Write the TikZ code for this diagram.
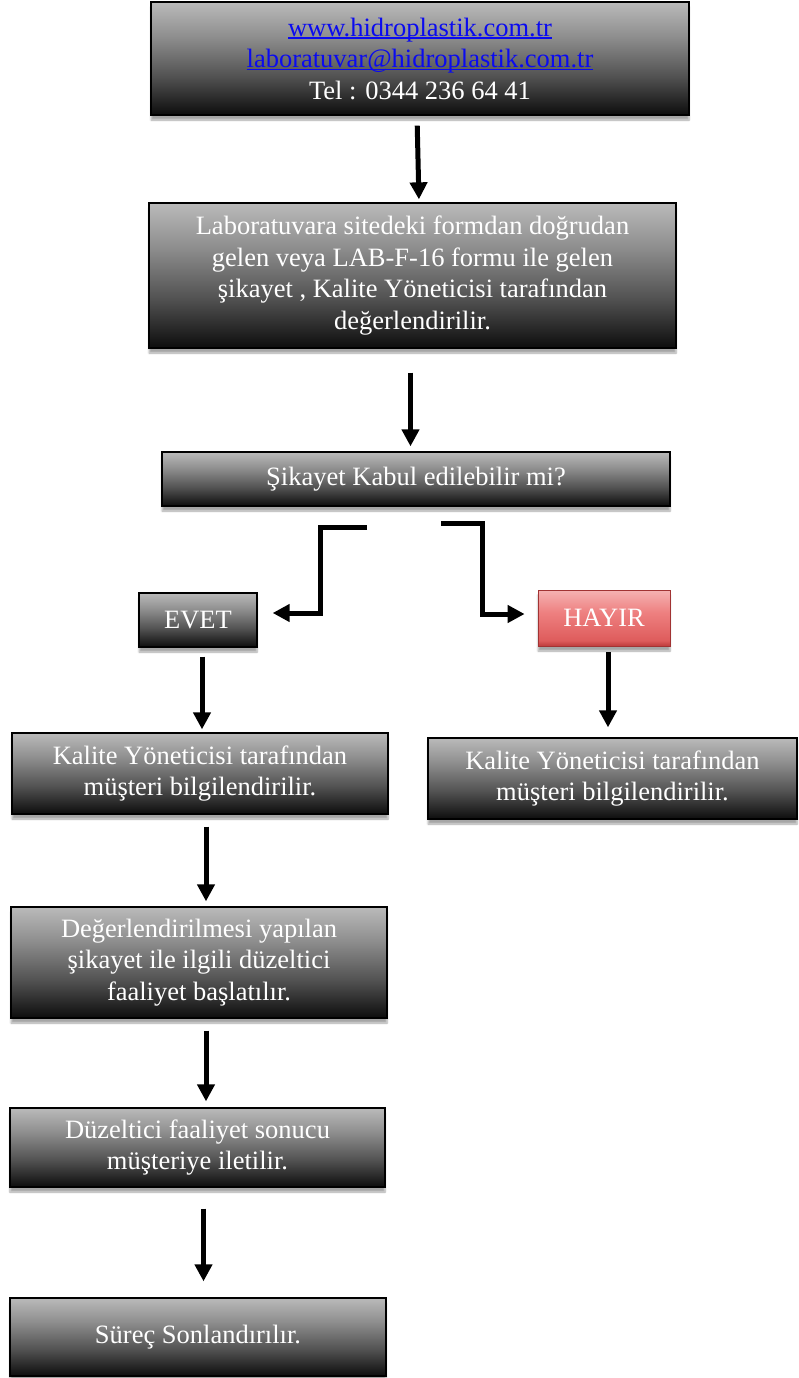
\documentclass[tikz,border=0pt]{standalone}
\usepackage{fontspec}
\setmainfont{Liberation Serif}
\usetikzlibrary{arrows.meta,shadows.blur}
\definecolor{kirmiziA}{RGB}{238,128,128}
\definecolor{kirmiziB}{RGB}{222,92,92}
\definecolor{kirmiziC}{RGB}{190,60,60}
\definecolor{link}{RGB}{10,10,240}
\pgfdeclareverticalshading{koyu}{100bp}{color(0bp)=(black!95); color(25bp)=(black!95); color(42bp)=(black!68); color(60bp)=(black!44); color(75bp)=(black!27); color(100bp)=(black!27)}
\pgfdeclareverticalshading{kirmizi}{100bp}{color(0bp)=(kirmiziC); color(25bp)=(kirmiziC); color(30bp)=(kirmiziB); color(55bp)=(kirmiziA); color(70bp)=(kirmiziA!70!white); color(75bp)=(kirmiziA!60!white); color(100bp)=(kirmiziA!60!white)}
\newcommand{\baglanti}[1]{\textcolor{link}{\setbox0\hbox{#1}\rlap{\rule[-2.6pt]{\wd0}{1.3pt}}\box0}}
\tikzset{
  kutu/.style={draw=black,line width=1.3pt,shading=koyu,text=white,align=center,inner sep=0pt,
    font=\fontsize{26.5}{31.5}\selectfont,blur shadow={shadow xshift=0pt,shadow yshift=-5pt,shadow blur steps=6,shadow opacity=35}},
  ok/.style={line width=5pt,-{Triangle[length=17pt,width=17pt]}},
}
\begin{document}
\begin{tikzpicture}[x=1pt,y=-1pt]
    \useasboundingbox (0,0) rectangle (798,1378);
    \node[kutu,minimum width=538,minimum height=113] (web) at (420,58.5)
       {\baglanti{www.hidroplastik.com.tr}\\
        \baglanti{laboratuvar@hidroplastik.com.tr}\\
        Tel : 0344 236 64 41};
    \node[kutu,minimum width=527,minimum height=145] (form) at (412.5,275.5)
       {Laboratuvara sitedeki formdan doğrudan\\gelen veya LAB-F-16 formu ile gelen\\şikayet , Kalite Yöneticisi tarafından\\değerlendirilir.};
    \node[kutu,minimum width=508,minimum height=54] (soru) at (416,479) {Şikayet Kabul edilebilir mi?};
    \node[kutu,minimum width=118,minimum height=54] (evet) at (198,620) {EVET};
    \node[kutu,draw=kirmiziC!85!black,line width=0.8pt,shading=kirmizi,
       minimum width=132,minimum height=56] (hayir) at (604,618) {HAYIR};
    \node[kutu,minimum width=376,minimum height=81] (bilgiA) at (200,773.5)
       {Kalite Yöneticisi tarafından\\müşteri bilgilendirilir.};
    \node[kutu,minimum width=369,minimum height=81] (bilgiB) at (612.5,778.5)
       {Kalite Yöneticisi tarafından\\müşteri bilgilendirilir.};
    \node[kutu,minimum width=376,minimum height=111] (faaliyet) at (199,962.5)
       {Değerlendirilmesi yapılan\\şikayet ile ilgili düzeltici\\faaliyet başlatılır.};
    \node[kutu,minimum width=375,minimum height=79] (sonuc) at (197.5,1147.5)
       {Düzeltici faaliyet sonucu\\müşteriye iletilir.};
    \node[kutu,minimum width=376,minimum height=78] (son) at (198,1337) {Süreç Sonlandırılır.};

    \draw[ok,shorten <=10pt,shorten >=3pt] ([xshift=-3pt]web.south) -- ([xshift=-1pt]web.south |- form.north);
    \draw[ok,shorten <=24pt,shorten >=5pt] ([xshift=-2pt]form.south) -- ([xshift=-2pt]form.south |- soru.north);
    \draw[ok,line join=miter,shorten >=15pt] ([xshift=-49pt,yshift=-21pt]soru.south) -- ++(-47,0) |- ([yshift=7pt]evet.east);
    \draw[ok,line join=miter,shorten >=13pt] ([xshift=25pt,yshift=-17pt]soru.south) -- ++(41,0) |- ([yshift=4pt]hayir.west);
    \draw[ok,shorten <=9pt,shorten >=3pt] ([xshift=4pt]evet.south) -- ([xshift=4pt]evet.south |- bilgiA.north);
    \draw[ok,shorten <=6pt,shorten >=10pt] ([xshift=4pt]hayir.south) -- ([xshift=4pt]hayir.south |- bilgiB.north);
    \draw[ok,shorten <=12pt,shorten >=5pt] ([xshift=6pt]bilgiA.south) -- ([xshift=6pt]bilgiA.south |- faaliyet.north);
    \draw[ok,shorten <=12pt,shorten >=6pt] ([xshift=7pt]faaliyet.south) -- ([xshift=7pt]faaliyet.south |- sonuc.north);
    \draw[ok,shorten <=21pt,shorten >=16pt] ([xshift=6pt]sonuc.south) -- ([xshift=6pt]sonuc.south |- son.north);
\end{tikzpicture}
\end{document}
